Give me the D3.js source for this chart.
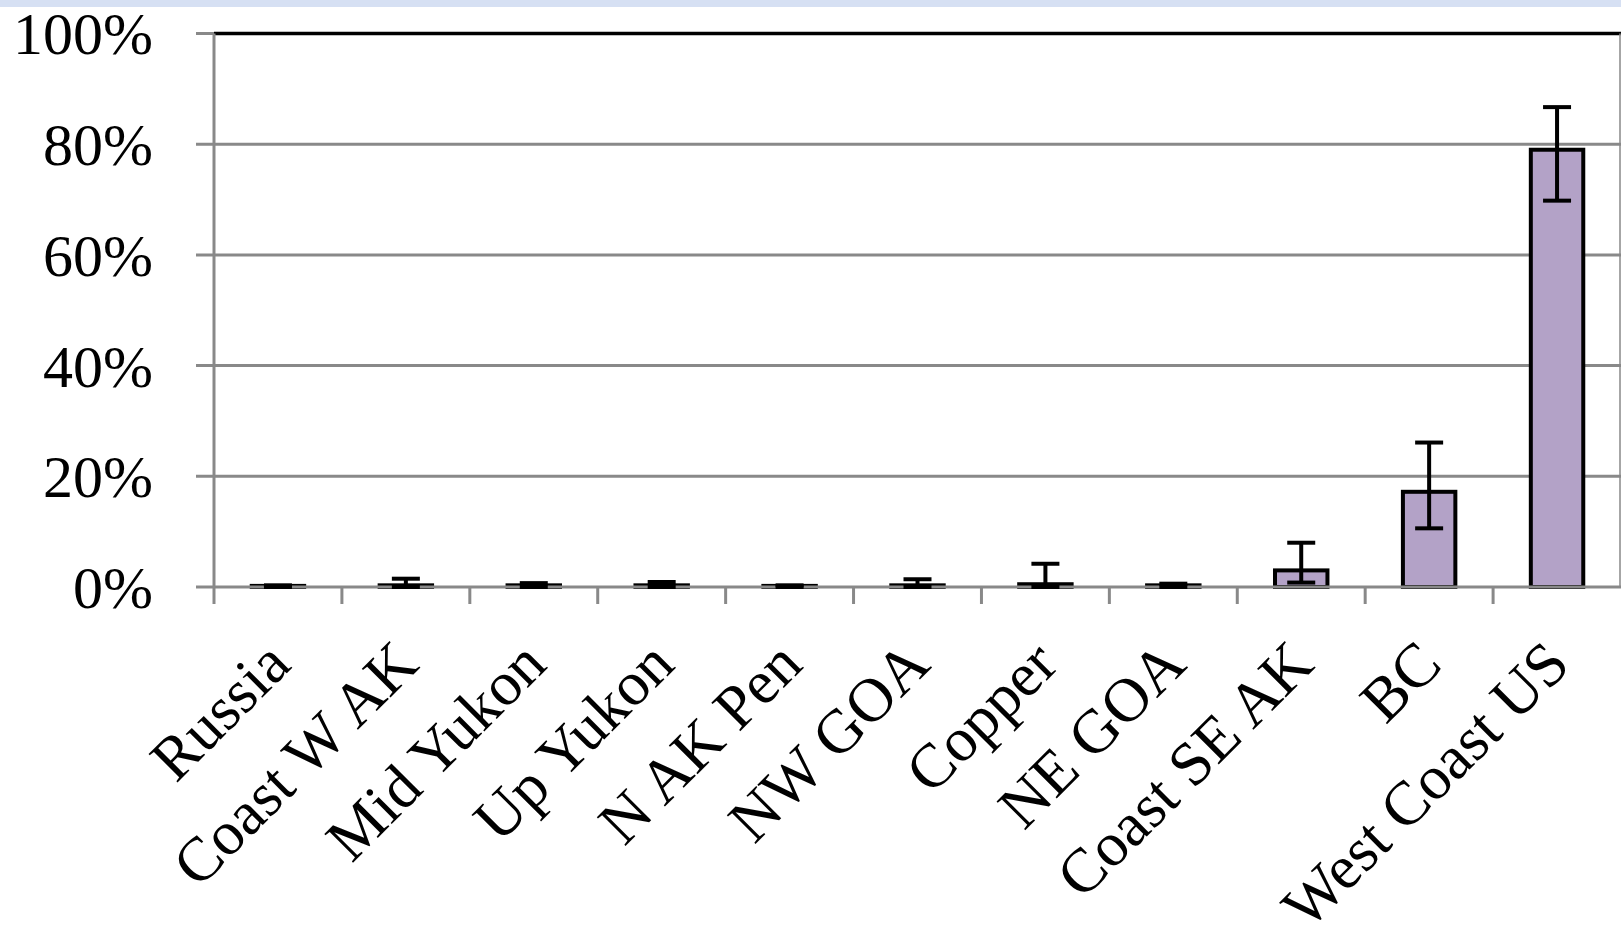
<!DOCTYPE html>
<html><head><meta charset="utf-8">
<script src="https://cdn.jsdelivr.net/npm/d3@7"></script>
<style>html,body{margin:0;padding:0;background:#fff;overflow:hidden}</style>
</head><body><svg id="c" width="1621" height="927"></svg>
<script>
const categories = ["Russia","Coast W AK","Mid Yukon","Up Yukon","N AK Pen","NW GOA","Copper","NE GOA","Coast SE AK","BC","West Coast US"];
const values = [0.002, 0.003, 0.003, 0.003, 0.002, 0.003, 0.005, 0.003, 0.030, 0.172, 0.790];
const upperCI = [0.003, 0.015, 0.007, 0.009, 0.003, 0.014, 0.042, 0.006, 0.080, 0.261, 0.867];
const lowerCI = [0.000, 0.000, 0.000, 0.000, 0.000, 0.000, 0.000, 0.000, 0.008, 0.106, 0.698];
const yTicks = [0, 0.2, 0.4, 0.6, 0.8, 1.0];

const svg = d3.select("#c");
const L = 214, R = 1621, T = 33.5, B = 587;
const font = "'Liberation Serif','Times New Roman',serif";
const grey = "#898989";

svg.append("rect").attr("x",0).attr("y",0).attr("width",1621).attr("height",7).attr("fill","#d6e0f3");

const x = d3.scaleBand().domain(categories).range([L, R]).paddingInner(0).paddingOuter(0);
const y = d3.scaleLinear().domain([0, 1]).range([B, T]);
const bw = x.bandwidth() * 0.41;
const capW = 28;

// gridlines
svg.append("g").selectAll("line").data(yTicks.filter(v => v > 0 && v < 1)).join("line")
  .attr("x1", L - 18).attr("x2", R).attr("y1", d => y(d)).attr("y2", d => y(d))
  .attr("stroke", grey).attr("stroke-width", 3);
// top line
svg.append("line").attr("x1", L - 18).attr("x2", L).attr("y1", y(1)).attr("y2", y(1)).attr("stroke", grey).attr("stroke-width", 3);
svg.append("line").attr("x1", L).attr("x2", R).attr("y1", y(1)).attr("y2", y(1)).attr("stroke", "#000").attr("stroke-width", 3.5);
// right border
svg.append("line").attr("x1", R - 1).attr("x2", R - 1).attr("y1", y(1)).attr("y2", y(0)).attr("stroke", grey).attr("stroke-width", 1.5);

// y axis labels
const yAxis = d3.axisLeft(y).tickValues(yTicks).tickFormat(d3.format(".0%")).tickSize(0).tickPadding(61);
const ya = svg.append("g").attr("transform", `translate(${L},0)`).call(yAxis);
ya.select(".domain").remove();
ya.selectAll("text").attr("font-family", font).attr("font-size", 60).attr("fill", "#000").attr("dy", "0.34em");

// bars
svg.append("g").selectAll("rect").data(categories).join("rect")
  .attr("x", (d) => x(d) + x.bandwidth()/2 - bw/2)
  .attr("width", bw)
  .attr("y", (d,i) => y(values[i]))
  .attr("height", (d,i) => y(0) - y(values[i]))
  .attr("fill", "#b3a2c7").attr("stroke", "#000").attr("stroke-width", 4);

// x axis line and ticks
svg.append("line").attr("x1", L - 18).attr("x2", R).attr("y1", y(0)).attr("y2", y(0)).attr("stroke", grey).attr("stroke-width", 3);
svg.append("line").attr("x1", L).attr("x2", L).attr("y1", y(1)).attr("y2", y(0) + 17).attr("stroke", grey).attr("stroke-width", 3);
svg.append("g").selectAll("line").data(categories.slice(1)).join("line")
  .attr("x1", d => x(d)).attr("x2", d => x(d)).attr("y1", y(0)).attr("y2", y(0) + 17)
  .attr("stroke", grey).attr("stroke-width", 3);

// error bars
const eb = svg.append("g").attr("stroke", "#000").attr("stroke-width", 4);
categories.forEach((c, i) => {
  const cx = x(c) + x.bandwidth()/2;
  eb.append("line").attr("x1", cx).attr("x2", cx).attr("y1", y(upperCI[i])).attr("y2", y(lowerCI[i]));
  eb.append("line").attr("x1", cx - capW/2).attr("x2", cx + capW/2).attr("y1", y(upperCI[i])).attr("y2", y(upperCI[i]));
  eb.append("line").attr("x1", cx - capW/2).attr("x2", cx + capW/2).attr("y1", y(lowerCI[i])).attr("y2", y(lowerCI[i]));
});

// x labels
svg.append("g").selectAll("text").data(categories).join("text")
  .attr("transform", d => `translate(${x(d) + x.bandwidth()/2 + 15},${y(0) + 80}) rotate(-45)`)
  .attr("text-anchor", "end")
  .attr("font-family", font).attr("font-size", 62).attr("fill", "#000")
  .text(d => d);
</script></body></html>
